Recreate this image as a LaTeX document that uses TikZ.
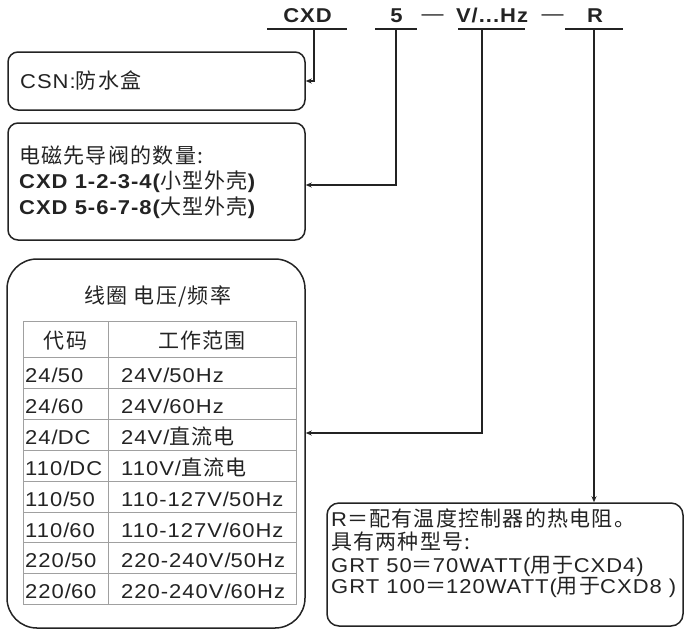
\documentclass[tikz,border=0pt]{standalone}
\usepackage{fontspec}
\setmainfont{Liberation Sans}[FakeStretch=1.1,LetterSpace=5]
\newfontfamily\zhfont{Noto Sans CJK SC}[Scale=1.05,LetterSpace=6]
\newcommand\zh[1]{{\zhfont\mdseries #1}}
\newcommand\fs{\fontsize{20}{24}\selectfont}
\usetikzlibrary{arrows.meta}
\definecolor{ink}{RGB}{35,35,35}
\definecolor{grid}{RGB}{160,160,160}
\begin{document}
\begin{tikzpicture}[x=1pt,y=-1pt,
  box/.style={draw=ink, line width=1.5pt, rounded corners=10pt, inner sep=0pt},
  txt/.style={anchor=base west, inner sep=0pt, font=\fs, text=ink},
  ctxt/.style={anchor=base, inner sep=0pt, font=\fs, text=ink},
  top/.style={anchor=base, inner sep=0pt, font=\fs\bfseries, text=ink},
  sepdash/.style={anchor=base, inner sep=0pt, font=\fs, text=ink},
  uline/.style={draw=ink, line width=2pt},
  arr/.style={draw=ink, line width=1.3pt, -{Stealth[length=6pt,width=5pt]}},
  gridline/.style={draw=grid, line width=0.9pt}]
\useasboundingbox (0,0) rectangle (685,630);

% top code line
\node[top] (lcxd) at (307.5,22) {CXD};
\node[top] (l5) at (396.5,22) {5};
\node[sepdash] (d1) at (432.5,20) {—};
\node[top] (lv) at (492,22) {V/...Hz};
\node[sepdash] (d2) at (552.5,20) {—};
\node[top] (lr) at (595,22) {R};
\draw[uline] (267,29) -- (347,29);
\draw[uline] (375,29) -- (417,29);
\draw[uline] (458,29) -- (525,29);
\draw[uline] (565,29) -- (623,29);
\coordinate (s1) at (314,29);
\coordinate (s2) at (396,29);
\coordinate (s3) at (482,29);
\coordinate (s4) at (594,29);

% boxes
\node[box, minimum width=297pt, minimum height=58pt] (csn) at (156.5,81) {};
\node[box, minimum width=297pt, minimum height=117pt] (num) at (156.5,181.5) {};
\node[box, rounded corners=30pt, minimum width=298pt, minimum height=369pt] (tbl) at (156,443.5) {};
\node[box, rounded corners=12pt, minimum width=356pt, minimum height=123pt] (rbox) at (505,564.5) {};

% connectors
\draw[arr] (s1) |- (csn.east);
\draw[arr] (s2) |- ([yshift=-3.5pt]num.east);
\draw[arr] (s3) |- ([yshift=10.5pt]tbl.east);
\draw[arr] (s4) -- (s4 |- rbox.north);

% box texts
\node[txt] (tcsn) at (20,88) {CSN:\zh{防水盒}};
\node[txt] (tn1) at (19,163) {\zh{电磁先导阀的数量:}};
\node[txt] (tn2) at (19,188) {\bfseries CXD 1-2-3-4(\zh{小型外壳})};
\node[txt] (tn3) at (19,214) {\bfseries CXD 5-6-7-8(\zh{大型外壳})};

\node[txt] (tr1) at (331,526) {R\zh{＝配有温度控制器的热电阻。}};
\node[txt] (tr2) at (331,549) {\zh{具有两种型号:}};
\node[txt] (tr3) at (331,572) {GRT 50\zh{＝}70WATT(\zh{用于}CXD4)};
\node[txt] (tr4) at (331,593) {GRT 100\zh{＝}120WATT(\zh{用于}CXD8 )};

% table
\node[ctxt] (ttitle) at (158,303) {\zh{线圈 电压/频率}};
\draw[gridline] (23,321) rectangle (296,604);
\draw[gridline] (108,321) -- (108,604);
\foreach \y in {357,388,419,450,481,512,542,573}
  \draw[gridline] (23,\y) -- (296,\y);
\node[ctxt] (h1) at (65.5,348) {\zh{代码}};
\node[ctxt] (h2) at (202,348) {\zh{工作范围}};
\foreach \y/\a/\b [count=\i] in {
  382/24\slash 50/24V\slash 50Hz,
  413/24\slash 60/24V\slash 60Hz,
  444/24\slash DC/24V\slash\zh{直流电},
  475/110\slash DC/110V\slash\zh{直流电},
  506/110\slash 50/110-127V\slash 50Hz,
  537/110\slash 60/110-127V\slash 60Hz,
  567/220\slash 50/220-240V\slash 50Hz,
  598/220\slash 60/220-240V\slash 60Hz}{
  \node[txt] (c\i) at (25,\y) {\a};
  \node[txt] (w\i) at (121,\y) {\b};
}
\end{tikzpicture}
\end{document}
